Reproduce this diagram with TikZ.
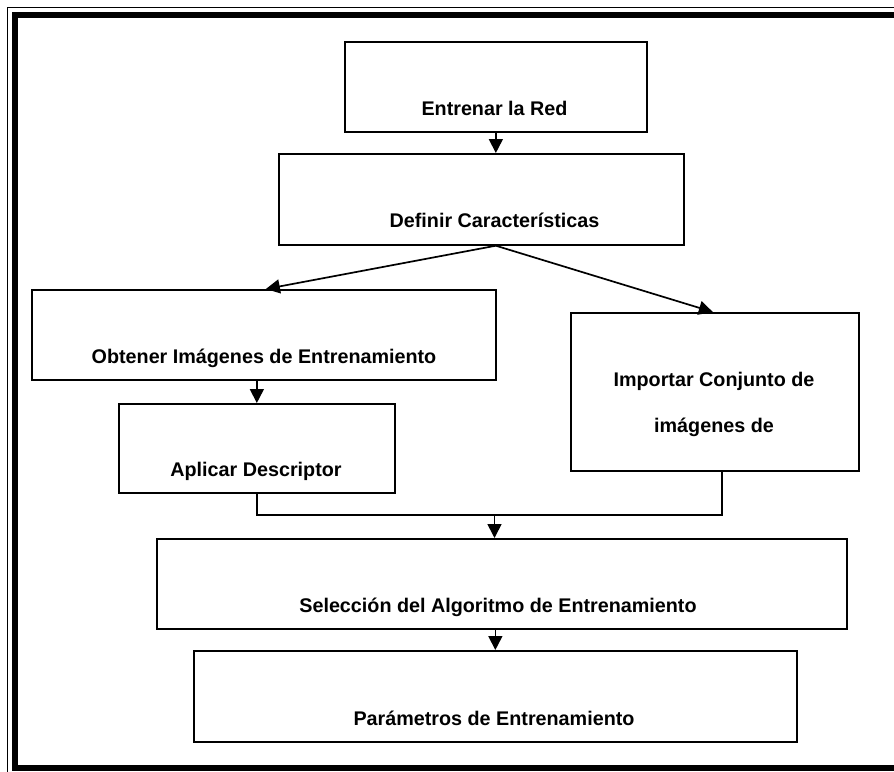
\documentclass[tikz,border=0pt]{standalone}
\usepackage{fontspec}
\setmainfont{Liberation Sans}
\usetikzlibrary{arrows.meta}
\begin{document}
\begin{tikzpicture}[x=1pt,y=-1pt,
  box/.style={draw, line width=1.7pt, inner sep=0pt, anchor=north west},
  lbl/.style={anchor=base, inner sep=0pt, font=\fontsize{19.75}{24}\selectfont\bfseries},
  link/.style={line width=1.7pt},
  arrow/.style={link, -{Triangle[length=14pt,width=14pt]}}]
  \path[use as bounding box] (0,0) rectangle (894,771);
  \clip (0,0) rectangle (894,771);

  % double page frame
  \draw[line width=1.3pt] (7.5,7.5) rectangle (930,800);
  \draw[line width=6pt] (14.5,15) rectangle (920,767.5);

  % process boxes
  \node[box, minimum width=302pt, minimum height=90pt] (e) at (344,41) {};
  \node[box, minimum width=405pt, minimum height=91pt] (d) at (278,153) {};
  \node[box, minimum width=464pt, minimum height=90pt] (o) at (31,289) {};
  \node[box, minimum width=276pt, minimum height=89pt] (a) at (118,403) {};
  \node[box, minimum width=288pt, minimum height=158pt] (i) at (570,312) {};
  \node[box, minimum width=690pt, minimum height=90pt] (s) at (156,538) {};
  \node[box, minimum width=603pt, minimum height=91pt] (p) at (193,650) {};

  % box texts
  \node[lbl] (te) at (494.5,115) {Entrenar la Red};
  \node[lbl] (td) at (494.5,227) {Definir Características};
  \node[lbl] (to) at (264,363) {Obtener Imágenes de Entrenamiento};
  \node[lbl] (ta) at (256,476) {Aplicar Descriptor};
  \node[lbl] (ti1) at (714,386) {Importar Conjunto de};
  \node[lbl] (ti2) at (714,432) {imágenes de};
  \node[lbl] (ts) at (498,612) {Selección del Algoritmo de Entrenamiento};
  \node[lbl] (tp) at (494,725) {Parámetros de Entrenamiento};

  % connectors
  \coordinate (split) at (e.south |- d.south);
  \coordinate (merge) at (494.5,515);
  \draw[arrow] (e.south) -- (e.south |- d.north);
  \draw[arrow] (split) -- ([xshift=2pt]o.north);
  \draw[arrow] (split) -- ([xshift=-2pt]i.north);
  \draw[arrow] (a.north |- o.south) -- (a.north);
  \draw[link] (a.south) |- (merge) -| ([xshift=7pt]i.south);
  \draw[arrow] (merge) -- (merge |- s.north);
  \draw[arrow] (p.north |- s.south) -- (p.north);
\end{tikzpicture}
\end{document}
